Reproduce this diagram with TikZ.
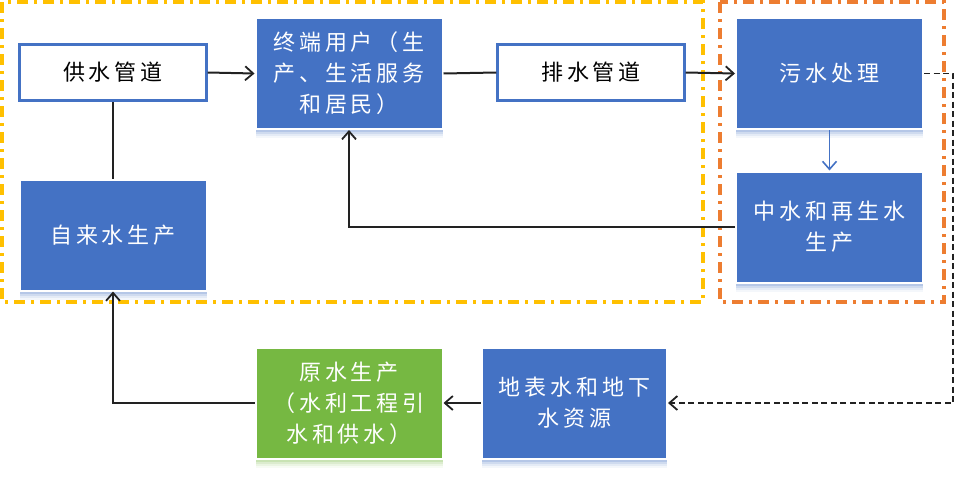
\documentclass[tikz,border=0pt]{standalone}
\usepackage{fontspec}
\newfontfamily\cjk{Noto Sans CJK SC}[LetterSpace=18]
\usetikzlibrary{arrows.meta,shadows}
\definecolor{bl}{HTML}{4472C4}
\definecolor{gr}{HTML}{76B842}
\definecolor{yl}{HTML}{FFC000}
\definecolor{og}{HTML}{ED7D31}
\definecolor{ln}{HTML}{222222}
\tikzset{
  base/.style={rectangle, align=center, inner sep=0pt, font=\cjk\fontsize{22}{31}\selectfont},
  whitebox/.style={base, draw=bl, line width=2.4pt, fill=white, text=black, minimum width=187pt, minimum height=56pt},
  softshadow/.style={
    drop shadow={shadow xshift=0pt, shadow yshift=-9pt, fill=#1!30, opacity=0.2},
    drop shadow={shadow xshift=0pt, shadow yshift=-7pt, fill=#1!40, opacity=0.25},
    drop shadow={shadow xshift=0pt, shadow yshift=-5pt, fill=#1!50, opacity=0.3},
    drop shadow={shadow xshift=0pt, shadow yshift=-3pt, fill=#1!65, opacity=0.35}},
  bluebox/.style={base, draw=white, line width=2pt, fill=bl, text=white, minimum width=187pt, minimum height=111pt, softshadow=bl},
  greenbox/.style={base, draw=white, line width=2pt, fill=gr, text=white, minimum width=187pt, minimum height=111pt, softshadow=gr},
  tip/.style={-{Straight Barb[length=8pt,width=14pt,line width=1.8pt]}},
  arr/.style={draw=ln, line width=2pt, tip},
  plain/.style={draw=ln, line width=2pt},
  dashline/.style={draw=ln, line width=1.8pt, dash pattern=on 6pt off 3.5pt, tip},
  yframe/.style={draw=yl, line width=3.8pt, dash pattern=on 11pt off 6pt on 3pt off 6pt},
  oframe/.style={draw=og, line width=3.8pt, dash pattern=on 11pt off 6pt on 3pt off 6pt},
}
\begin{document}
\begin{tikzpicture}[x=1pt,y=-1pt]
\useasboundingbox (0,0) rectangle (957,479);
% frames
\draw[yframe] (2,2) rectangle (703,302);
\draw[oframe] (720,2) rectangle (944,302);
% nodes
\node[whitebox] (gs) at (113,72.5) {供水管道};
\node[bluebox] (zd) at (349,73.5) {终端用户（生\\产、生活服务\\和居民）};
\node[whitebox] (ps) at (591,72.5) {排水管道};
\node[bluebox] (ws) at (829.5,73.5) {污水处理};
\node[bluebox] (zs) at (829.5,227) {中水和再生水\\生产};
\node[bluebox] (zls) at (113,235) {自来水生产};
\node[greenbox] (ys) at (349,403) {原水生产\\（水利工程引\\水和供水）};
\node[bluebox, minimum width=185pt] (db) at (574.5,403) {地表水和地下\\水资源};
\coordinate (dc) at (953,73.5);
% connectors
\draw[arr] (gs.east) -- (zd.west);
\draw[plain] (zd.east) -- (ps.west);
\draw[arr] (ps.east) -- (ws.west);
\draw[draw=bl, line width=1.6pt, -{Straight Barb[length=8pt,width=14pt,line width=1.6pt]}] (ws.south) -- (zs.north);
\draw[arr] (zs.west) -| (zd.south);
\draw[plain] (zls.north) -- (gs.south);
\draw[arr] (ys.west) -| (zls.south);
\draw[arr] (db.west) -- (ys.east);
\draw[dashline] (ws.east) -- (dc) |- (db.east);
\end{tikzpicture}
\end{document}
